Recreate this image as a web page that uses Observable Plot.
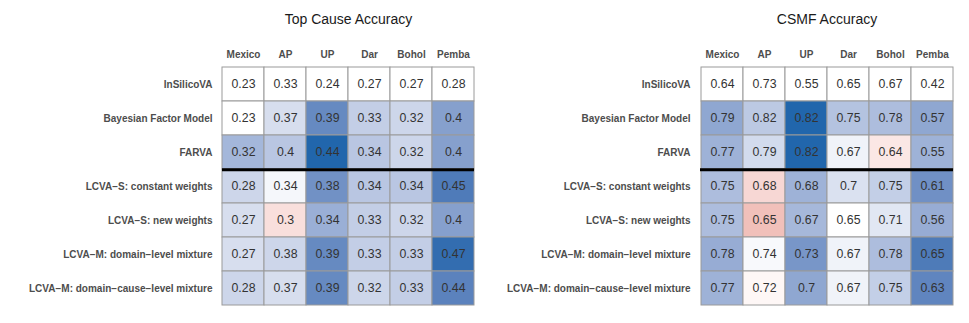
<!DOCTYPE html>
<html>
<head>
<meta charset="utf-8">
<script src="https://cdn.jsdelivr.net/npm/d3@7"></script>
<script src="https://cdn.jsdelivr.net/npm/@observablehq/plot@0.6"></script>
<style>
  html, body { margin: 0; padding: 0; background: white; }
  #wrap { display: flex; width: 969px; height: 323px; }
  #wrap svg { display: block; }
</style>
</head>
<body>
<div id="wrap"></div>
<script>
const sites = ["Mexico", "AP", "UP", "Dar", "Bohol", "Pemba"];
const methods = [
  "InSilicoVA",
  "Bayesian Factor Model",
  "FARVA",
  "LCVA\u2212S: constant weights",
  "LCVA\u2212S: new weights",
  "LCVA\u2212M: domain\u2212level mixture",
  "LCVA\u2212M: domain\u2212cause\u2212level mixture"
];

// Top Cause Accuracy
const topInSilicoVA = [0.23, 0.33, 0.24, 0.27, 0.27, 0.28];
const topBFM        = [0.23, 0.37, 0.39, 0.33, 0.32, 0.4];
const topFARVA      = [0.32, 0.4, 0.44, 0.34, 0.32, 0.4];
const topLCVASconst = [0.28, 0.34, 0.38, 0.34, 0.34, 0.45];
const topLCVASnew   = [0.27, 0.3, 0.34, 0.33, 0.32, 0.4];
const topLCVAMdom   = [0.27, 0.38, 0.39, 0.33, 0.33, 0.47];
const topLCVAMdc    = [0.28, 0.37, 0.39, 0.32, 0.33, 0.44];

// CSMF Accuracy
const csmfInSilicoVA = [0.64, 0.73, 0.55, 0.65, 0.67, 0.42];
const csmfBFM        = [0.79, 0.82, 0.82, 0.75, 0.78, 0.57];
const csmfFARVA      = [0.77, 0.79, 0.82, 0.67, 0.64, 0.55];
const csmfLCVASconst = [0.75, 0.68, 0.68, 0.7, 0.75, 0.61];
const csmfLCVASnew   = [0.75, 0.65, 0.67, 0.65, 0.71, 0.56];
const csmfLCVAMdom   = [0.78, 0.74, 0.73, 0.67, 0.78, 0.65];
const csmfLCVAMdc    = [0.77, 0.72, 0.7, 0.67, 0.75, 0.63];

const topRows = [topInSilicoVA, topBFM, topFARVA, topLCVASconst, topLCVASnew, topLCVAMdom, topLCVAMdc];
const csmfRows = [csmfInSilicoVA, csmfBFM, csmfFARVA, csmfLCVASconst, csmfLCVASnew, csmfLCVAMdom, csmfLCVAMdc];

const FONT = "'Liberation Sans', Arial, Helvetica, sans-serif";

function panel(title, rows, w, ml, mr) {
  const data = [];
  methods.forEach((m, i) => rows[i].forEach((v, j) =>
    data.push({method: m, site: sites[j], value: v, diff: v - rows[0][j]})));
  const maxAbs = d3.max(data, d => Math.abs(d.diff));
  const H = 323, mt = 65, mb = 16;
  const band = (H - mt - mb) / methods.length;
  return Plot.plot({
    width: w, height: H,
    marginTop: mt, marginBottom: mb, marginLeft: ml, marginRight: mr,
    style: {fontFamily: FONT, background: "white", overflow: "visible"},
    x: {domain: sites, padding: 0, axis: null},
    y: {domain: methods, padding: 0, axis: null},
    color: {
      type: "linear",
      domain: [-maxAbs, maxAbs],
      interpolate: d3.piecewise(d3.interpolateLab, ["#b2182b", "#ffffff", "#2166ac"])
    },
    marks: [
      Plot.cell(data, {x: "site", y: "method", fill: "diff", stroke: "#9a9a9a", strokeWidth: 1}),
      Plot.text(data, {x: "site", y: "method", text: d => String(d.value), fontSize: 12.3, fill: "#333333"}),
      Plot.ruleY([methods[2]], {dy: band / 2, stroke: "black", strokeWidth: 3}),
      Plot.axisX({anchor: "top", tickSize: 0, tickPadding: 8, fontSize: 10, fontWeight: "bold", fill: "#4d4d4d", label: null}),
      Plot.axisY({anchor: "left", tickSize: 0, tickPadding: 10, fontSize: 10, fontWeight: "bold", fill: "#4d4d4d", label: null}),
      Plot.text([title], {frameAnchor: "top", dy: -51, fontSize: 14, fill: "#1a1a1a"})
    ]
  });
}

const wrap = document.getElementById("wrap");
wrap.append(panel("Top Cause Accuracy", topRows, 485, 222, 11));
wrap.append(panel("CSMF Accuracy", csmfRows, 484, 215, 16));
</script>
</body>
</html>
